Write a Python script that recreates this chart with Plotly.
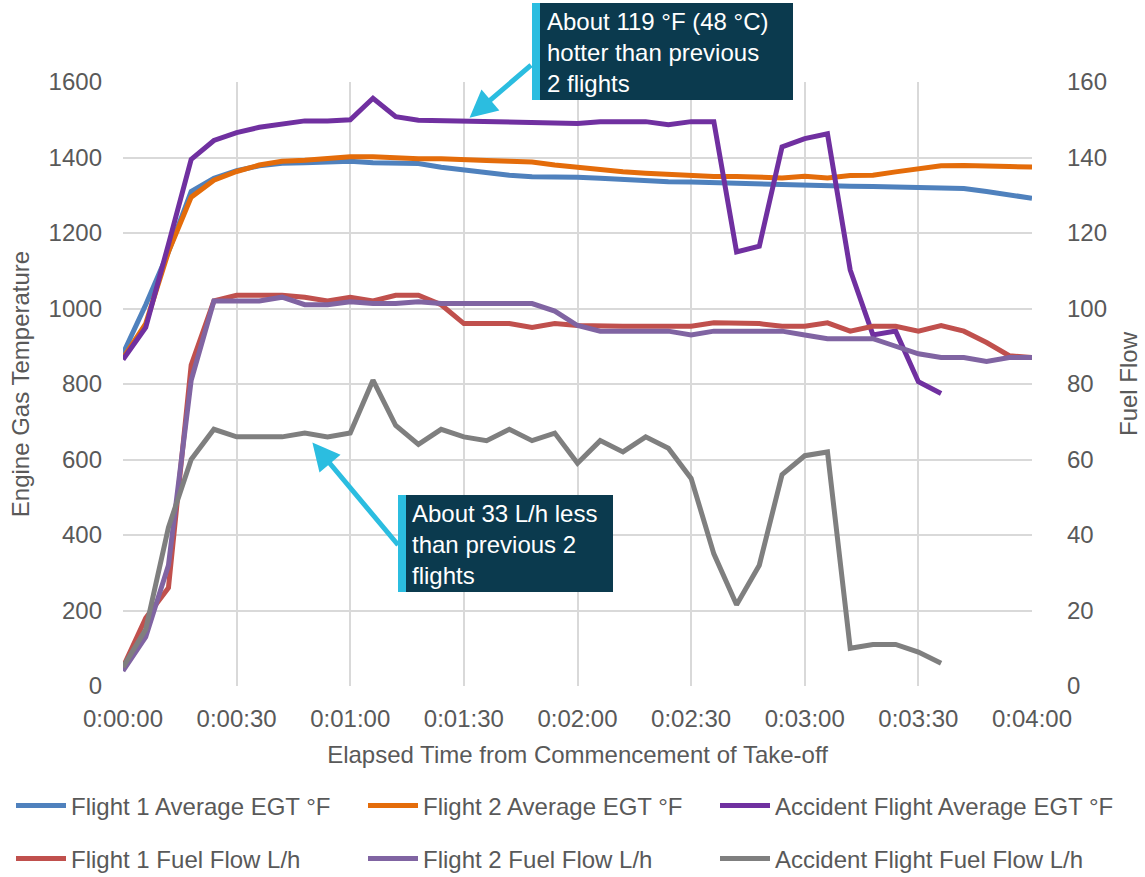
import plotly.graph_objects as go

# Elapsed time from start of take-off, in seconds (one sample every 6 s)
elapsed_s = [0, 6, 12, 18, 24, 30, 36, 42, 48, 54, 60, 66, 72, 78, 84, 90, 96, 102, 108, 114,
             120, 126, 132, 138, 144, 150, 156, 162, 168, 174, 180, 186, 192, 198, 204, 210,
             216, 222, 228, 234, 240]
accident_s = elapsed_s[:37]  # accident flight record ends at 3:36

# Engine gas temperature (°F)
flight1_egt = [880, 1010, 1150, 1310, 1345, 1365, 1378, 1385, 1386, 1388, 1390, 1386, 1385, 1384,
               1374, 1366, 1360, 1353, 1349, 1349, 1348, 1345, 1341, 1337, 1336, 1335, 1333, 1331,
               1329, 1327, 1326, 1325, 1324, 1323, 1322, 1320, 1318, 1318, 1310, 1300, 1292]
flight2_egt = [868, 960, 1150, 1295, 1340, 1363, 1380, 1390, 1393, 1398, 1402, 1402, 1398, 1397,
               1397, 1393, 1392, 1390, 1388, 1380, 1373, 1366, 1362, 1358, 1355, 1352, 1350, 1350,
               1349, 1346, 1350, 1346, 1352, 1353, 1362, 1370, 1378, 1379, 1379, 1376, 1375]
accident_egt = [865, 950, 1170, 1395, 1445, 1466, 1480, 1490, 1497, 1497, 1500, 1557, 1508, 1499,
                1498, 1495, 1495, 1495, 1495, 1493, 1490, 1495, 1495, 1495, 1487, 1495, 1495, 1150,
                1165, 1428, 1450, 1463, 1102, 930, 940, 806, 775]

# Fuel flow (L/h)
flight1_ff = [5, 18, 26, 85, 102, 103.5, 103.5, 103.5, 103, 102, 103, 102, 103.5, 103.5, 101, 96,
              96, 96, 95, 96, 95.5, 95.3, 95.3, 95.3, 95.3, 95.3, 96.2, 96.2, 96, 95.3, 95.3, 96.2,
              94, 95.3, 95.3, 94, 95.5, 94, 91, 87.5, 87]
flight2_ff = [4, 13, 32, 81, 102, 102, 102, 103, 101, 101, 101.8, 101.3, 101.3, 101.8, 101.3,
              101.3, 101.3, 101.3, 101.3, 99.3, 95.5, 94, 94, 94, 94, 93, 94, 94, 94, 94, 93, 92,
              92, 92, 90, 88, 87, 87, 86, 87, 87]
accident_ff = [5, 15, 42, 60, 68, 66, 66, 66, 67, 66, 67, 81, 69, 64, 68, 66, 65, 68, 65, 67, 59,
               65, 62, 66, 63, 55, 35, 21.5, 32, 56, 61, 62, 10, 11, 11, 9, 6]

tick_seconds = [0, 30, 60, 90, 120, 150, 180, 210, 240]
tick_labels = ["0:00:00", "0:00:30", "0:01:00", "0:01:30", "0:02:00",
               "0:02:30", "0:03:00", "0:03:30", "0:04:00"]

# Page geometry (pixels) of the plotting area
W, H = 1145, 877
PL, PR, PT, PB = 123, 1032, 82, 686


def px(xp):
    return (xp - PL) / (PR - PL)


def py(yp):
    return (PB - yp) / (PB - PT)


FONT = "Liberation Sans, Arial, sans-serif"
FS = 24
TXT = "#595959"
GRID = "#d9d9d9"
LW = 5

series = [
    ("Flight 1 Average EGT °F", elapsed_s, flight1_egt, "#4F81BD", "y", "legend"),
    ("Flight 2 Average EGT °F", elapsed_s, flight2_egt, "#E46C0A", "y", "legend2"),
    ("Accident Flight Average EGT °F", accident_s, accident_egt, "#7030A0", "y", "legend3"),
    ("Flight 1 Fuel Flow L/h", elapsed_s, flight1_ff, "#C0504D", "y2", "legend4"),
    ("Flight 2 Fuel Flow L/h", elapsed_s, flight2_ff, "#8064A2", "y2", "legend5"),
    ("Accident Flight Fuel Flow L/h", accident_s, accident_ff, "#7F7F7F", "y2", "legend6"),
]

fig = go.Figure()
for name, xs, ys, color, yax, leg in series:
    fig.add_trace(go.Scatter(x=xs, y=ys, name=name, mode="lines", yaxis=yax, legend=leg,
                             line=dict(color=color, width=LW)))

# One legend box per entry, laid out as a 3 x 2 grid of equal columns under the chart
# (positions relative to the whole page so they never resize the plot)
legend_pos = {
    "legend": (11, 806), "legend2": (363, 806), "legend3": (715, 806),
    "legend4": (11, 859), "legend5": (363, 859), "legend6": (715, 859),
}
legends = {}
for key, (lx, ly) in legend_pos.items():
    legends[key] = dict(x=lx / W, y=1 - ly / H, xref="container", yref="container",
                        xanchor="left", yanchor="middle", orientation="h",
                        itemwidth=50, bgcolor="rgba(0,0,0,0)", borderwidth=0,
                        font=dict(family=FONT, size=FS, color=TXT))

# Call-out boxes: dark panel with a cyan stripe on its left edge
BOX = "#0B3A4E"
CYAN = "#2BBDE0"
shapes = []
for (x0, y0, x1, y1) in [(532, 3, 793, 100), (398, 495, 613, 592)]:
    shapes.append(dict(type="rect", xref="paper", yref="paper", x0=px(x0), x1=px(x1),
                       y0=py(y1), y1=py(y0), fillcolor=BOX, line=dict(width=0), layer="above"))
    shapes.append(dict(type="rect", xref="paper", yref="paper", x0=px(x0), x1=px(x0 + 8),
                       y0=py(y1), y1=py(y0), fillcolor=CYAN, line=dict(width=0), layer="above"))

annotations = [
    # arrows pointing at the accident-flight traces
    dict(x=91.5, y=1505, xref="x", yref="y", text="", showarrow=True, ax=63, ay=-54,
         axref="pixel", ayref="pixel", arrowcolor=CYAN, arrowwidth=5, arrowhead=2,
         arrowsize=1.1, standoff=0),
    dict(x=50, y=64.5, xref="x", yref="y2", text="", showarrow=True, ax=87, ay=104,
         axref="pixel", ayref="pixel", arrowcolor=CYAN, arrowwidth=5, arrowhead=2,
         arrowsize=1.1, standoff=0),
    dict(x=px(545), y=py(52), xref="paper", yref="paper", xanchor="left", yanchor="middle",
         align="left", showarrow=False,
         text="About 119 °F (48 °C)<br>hotter than previous<br>2 flights",
         font=dict(family=FONT, size=FS, color="white")),
    dict(x=px(410), y=py(544), xref="paper", yref="paper", xanchor="left", yanchor="middle",
         align="left", showarrow=False,
         text="About 33 L/h less<br>than previous 2<br>flights",
         font=dict(family=FONT, size=FS, color="white")),
]

fig.update_layout(
    width=W, height=H,
    margin=dict(l=PL, r=W - PR, t=PT, b=H - PB, pad=0, autoexpand=False),
    paper_bgcolor="white", plot_bgcolor="white",
    font=dict(family=FONT, size=FS, color=TXT),
    showlegend=True,
    shapes=shapes,
    annotations=annotations,
    xaxis=dict(range=[0, 240], tickvals=tick_seconds, ticktext=tick_labels, automargin=False,
               showgrid=True, gridcolor=GRID, gridwidth=1.5, zeroline=False, showline=False,
               ticks="", ticklabelstandoff=16,
               tickfont=dict(family=FONT, size=FS, color=TXT),
               title=dict(text="Elapsed Time from Commencement of Take-off",
                          font=dict(family=FONT, size=FS, color=TXT), standoff=15)),
    yaxis=dict(range=[0, 1600], dtick=200, showgrid=True, gridcolor=GRID, gridwidth=1.5,
               automargin=False, zeroline=False, showline=False, ticks="", ticklabelstandoff=20,
               tickfont=dict(family=FONT, size=FS, color=TXT),
               title=dict(text="Engine Gas Temperature",
                          font=dict(family=FONT, size=FS, color=TXT), standoff=12)),
    yaxis2=dict(range=[0, 160], dtick=20, overlaying="y", side="right", showgrid=False,
                automargin=False, zeroline=False, showline=False, ticks="", ticklabelstandoff=34,
                tickfont=dict(family=FONT, size=FS, color=TXT),
                title=dict(text="Fuel Flow", font=dict(family=FONT, size=FS, color=TXT),
                           standoff=14)),
    **legends,
)

fig.write_html("out.html")
